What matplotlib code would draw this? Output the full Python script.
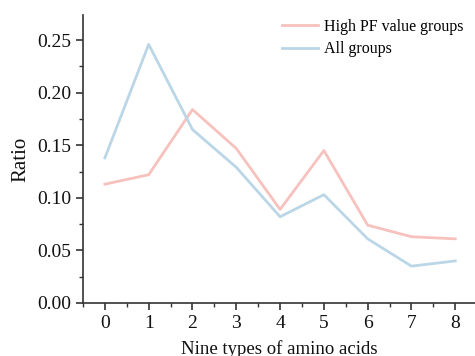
import matplotlib
matplotlib.use("Agg")
import matplotlib.pyplot as plt
from matplotlib.ticker import MultipleLocator

categories = [0, 1, 2, 3, 4, 5, 6, 7, 8]
high_pf = [0.113, 0.122, 0.184, 0.147, 0.089, 0.145, 0.074, 0.063, 0.061]
all_groups = [0.138, 0.246, 0.165, 0.129, 0.082, 0.103, 0.061, 0.035, 0.040]

plt.rcParams['font.family'] = ['Liberation Serif', 'DejaVu Serif']

fig = plt.figure(figsize=(4.75, 3.56), dpi=100)
ax = fig.add_axes([0.1747, 0.149, 0.8253, 0.809])

ax.plot(categories, high_pf, color='#F7C1BD', lw=2, label='High PF value groups')
ax.plot(categories, all_groups, color='#BBD6E6', lw=2, label='All groups')

ax.set_xlim(-0.5, 8.45)
ax.set_ylim(0, 0.274)
ax.xaxis.set_major_locator(MultipleLocator(1))
ax.xaxis.set_minor_locator(MultipleLocator(0.5))
ax.yaxis.set_major_locator(MultipleLocator(0.05))
ax.yaxis.set_minor_locator(MultipleLocator(0.025))
ax.yaxis.set_major_formatter(matplotlib.ticker.FormatStrFormatter('%.2f'))
ax.spines['top'].set_visible(False)
ax.spines['right'].set_visible(False)
for s in ('left', 'bottom'):
    ax.spines[s].set_color('#333333')
    ax.spines[s].set_linewidth(1.2)
ax.tick_params(which='major', direction='out', length=5, width=1.2, colors='#333333', labelsize=14, labelcolor='#111111')
ax.tick_params(which='minor', direction='out', length=3, width=1.0, colors='#333333')

ax.set_xlabel('Nine types of amino acids', fontsize=13.5, color='#111111', labelpad=6)
ax.set_ylabel('Ratio', fontsize=15, color='#111111', labelpad=5)

ax.legend(loc='upper right', frameon=False, fontsize=11.5, handlelength=2.3,
          handletextpad=0.35, borderaxespad=0.2, labelspacing=0.4,
          bbox_to_anchor=(0.995, 1.02))

fig.savefig('out.png', dpi=100)
